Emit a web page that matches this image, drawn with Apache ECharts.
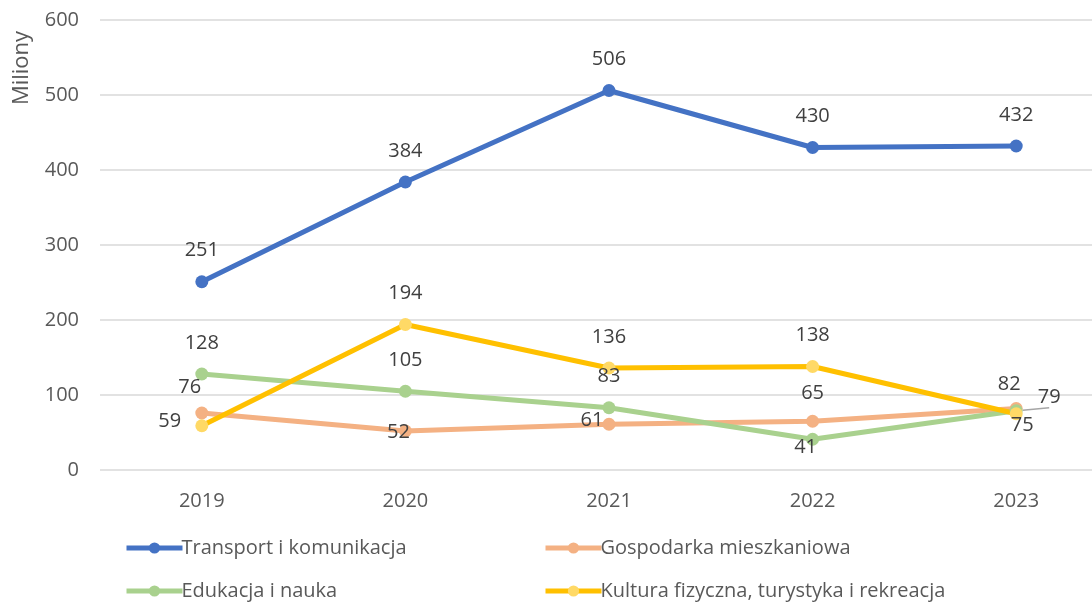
<!DOCTYPE html>
<html>
<head>
<meta charset="utf-8">
<script src="https://cdn.jsdelivr.net/npm/echarts@6/dist/echarts.min.js"></script>
<style>
  html, body { margin: 0; padding: 0; background: #fff; }
  #chart { width: 1092px; height: 608px; }
</style>
</head>
<body>
<div id="chart"></div>
<script>
// dane (mln)
var years = ['2019', '2020', '2021', '2022', '2023'];
var transport = [251, 384, 506, 430, 432];
var gospodarka = [76, 52, 61, 65, 82];
var edukacja = [128, 105, 83, 41, 79];
var kultura = [59, 194, 136, 138, 75];
var yTicks = [0, 100, 200, 300, 400, 500, 600];

var names = ['Transport i komunikacja', 'Gospodarka mieszkaniowa', 'Edukacja i nauka', 'Kultura fizyczna, turystyka i rekreacja'];

// przesunięcia etykiet względem punktu (jak w oryginale z Excela)
var up = [0, -31];
var offsets = [
  [up, up, up, up, up],
  [[-12, -26], [-7, 1], [-17, -4], [0, -28], [-7, -24]],
  [up, up, up, [-7, 8], [33, -13]],
  [[-32, -4], up, up, up, [6, 12]]
];

var lineColors = ['#4472C4', '#F4B183', '#A9D18E', '#FFC000'];
var markColors = ['#4472C4', '#F4B183', '#A9D18E', '#FFD966'];
var values = [transport, gospodarka, edukacja, kultura];

var font = 'Open Sans';

function buildSeries(k) {
  var data = values[k].map(function (v, i) {
    var item = {
      value: v,
      label: { offset: offsets[k][i] }
    };
    if (k === 2 && i === 4) {
      item.labelLine = { show: true, lineStyle: { color: '#a6a6a6', width: 1.5 } };
    }
    return item;
  });
  return {
    name: names[k],
    type: 'line',
    data: data,
    symbol: 'circle',
    symbolSize: 13,
    lineStyle: { color: lineColors[k], width: 5 },
    itemStyle: { color: markColors[k] },
    label: {
      show: true,
      position: 'inside',
      fontFamily: font,
      fontSize: 20,
      color: '#404040'
    },
    emphasis: { disabled: true },
    animation: false
  };
}

var legendPos = [[124, 538], [543, 538], [124, 581], [543, 581]];

var myChart = echarts.init(document.getElementById('chart'));
var option = {
  backgroundColor: '#fff',
  grid: { left: 100, right: -26, top: 20, bottom: 138, outerBoundsMode: 'none', containLabel: false },
  xAxis: {
    type: 'category',
    data: years,
    boundaryGap: true,
    axisLine: { show: false },
    axisTick: { show: false },
    axisLabel: { margin: 21, fontFamily: font, fontSize: 20, color: '#595959' }
  },
  yAxis: {
    type: 'value',
    min: yTicks[0],
    max: yTicks[yTicks.length - 1],
    interval: 100,
    axisLine: { show: false },
    axisTick: { show: false },
    axisLabel: { margin: 21, fontFamily: font, fontSize: 20, color: '#595959' },
    splitLine: { lineStyle: { color: '#d9d9d9', width: 1.5 } }
  },
  legend: names.map(function (n, k) {
    return {
      data: [n],
      left: legendPos[k][0],
      top: legendPos[k][1],
      padding: 0,
      itemWidth: 56,
      itemHeight: 14,
      selectedMode: false,
      lineStyle: { width: 5 },
      textStyle: { fontFamily: font, fontSize: 20, color: '#595959', padding: [0, 0, 0, -6] }
    };
  }),
  graphic: [{
    type: 'text',
    x: 22,
    y: 68,
    rotation: Math.PI / 2,
    style: {
      text: 'Miliony',
      fontFamily: font,
      fontSize: 22,
      fill: '#595959',
      align: 'center',
      verticalAlign: 'middle'
    }
  }],
  series: [0, 1, 2, 3].map(buildSeries)
};
myChart.setOption(option);
</script>
</body>
</html>
